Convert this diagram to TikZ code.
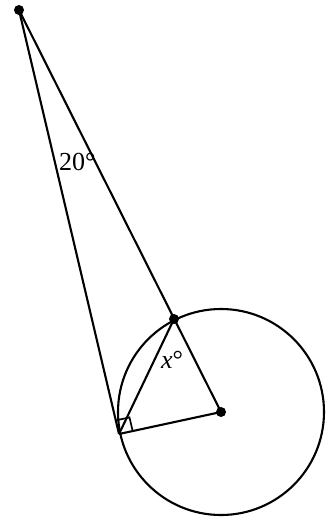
\documentclass[tikz,border=0pt]{standalone}
\usepackage{fontspec}
\setmainfont{Liberation Serif}
\usetikzlibrary{calc}
\begin{document}
\begin{tikzpicture}[x=1pt,y=-1pt,
  geo/.style={line width=2.1pt, line join=round},
  dot/.style={circle, fill=black, inner sep=0pt, minimum size=10pt},
  lbl/.style={font=\fontsize{26}{30}\selectfont, inner sep=0pt, anchor=base west}]
\useasboundingbox (0,0) rectangle (325,519);
\coordinate (C) at (221,412);
\coordinate (P) at (19,10);
\coordinate (T) at (119,434);
\coordinate (Q) at (174,319);
\draw[geo] (C) circle (103);
\draw[geo] (P) -- (T);
\draw[geo] (P) -- (C);
\draw[geo] (T) -- (C);
\draw[geo] (T) -- (Q);
\coordinate (ra) at ($(T)!14pt!(C)$);
\coordinate (rb) at ($(T)!14pt!(P)$);
\draw[line width=1.7pt] (ra) -- ($(ra)+(rb)-(T)$) -- (rb);
\node[dot] (pd) at (P) {};
\node[dot] (qd) at (Q) {};
\node[dot] (cd) at (C) {};
\node[lbl] (a20) at (59,170) {20°};
\node[lbl] (ax) at (161,368) {\textit{x}°};
\end{tikzpicture}
\end{document}
